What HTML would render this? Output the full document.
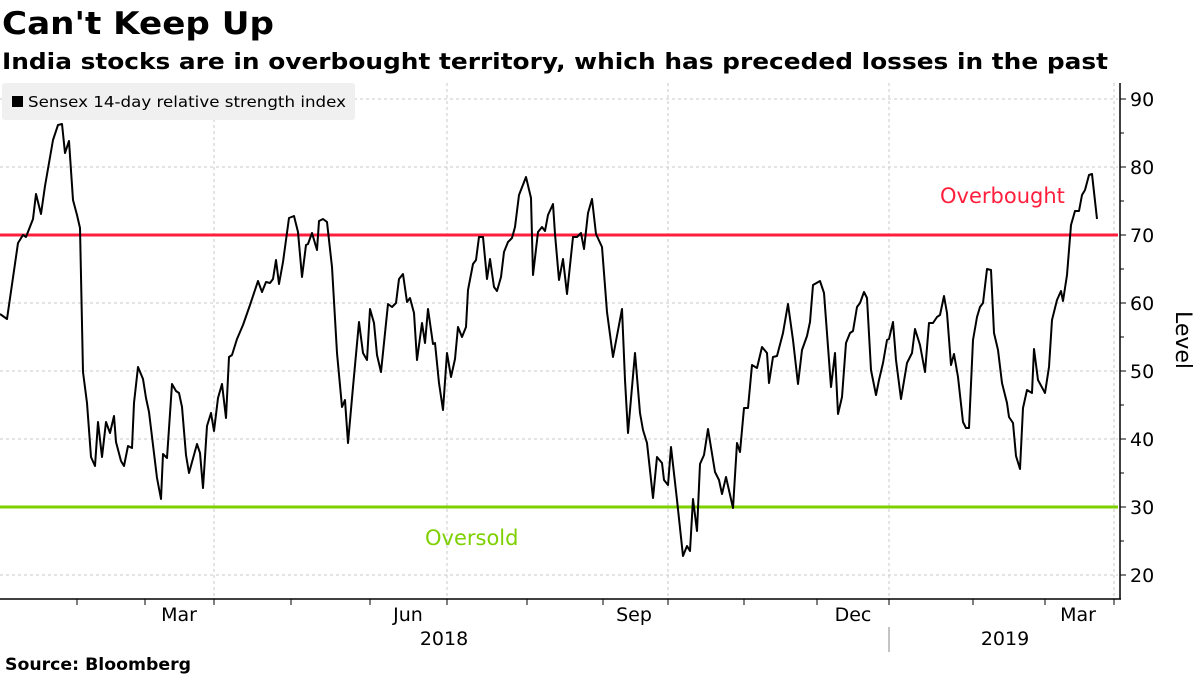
<!DOCTYPE html>
<html><head><meta charset="utf-8"><style>
body{margin:0;background:#fff;}
svg text{font-family:"DejaVu Sans","Liberation Sans",sans-serif;}
</style></head><body>
<svg width="1200" height="675" viewBox="0 0 1200 675" xmlns="http://www.w3.org/2000/svg">
<rect width="1200" height="675" fill="#fff"/>
<text x="2" y="34" font-size="31" font-weight="bold" textLength="272" lengthAdjust="spacingAndGlyphs">Can't Keep Up</text>
<text x="2" y="69" font-size="22" font-weight="bold" textLength="1106" lengthAdjust="spacingAndGlyphs">India stocks are in overbought territory, which has preceded losses in the past</text>
<g stroke="#c8c8c8" stroke-dasharray="3,3" stroke-width="1">
<line x1="0" x2="1118" y1="99" y2="99"/><line x1="0" x2="1118" y1="167" y2="167"/><line x1="0" x2="1118" y1="303" y2="303"/><line x1="0" x2="1118" y1="371" y2="371"/><line x1="0" x2="1118" y1="439" y2="439"/><line x1="0" x2="1118" y1="575" y2="575"/>
<line x1="214" x2="214" y1="83" y2="599"/><line x1="447" x2="447" y1="83" y2="599"/><line x1="668" x2="668" y1="83" y2="599"/><line x1="889" x2="889" y1="83" y2="599"/><line x1="1114" x2="1114" y1="83" y2="599"/>
</g>
<rect x="2" y="83" width="353" height="37" rx="3" fill="#f0f0f0"/>
<rect x="12" y="96" width="11" height="11" fill="#000"/>
<text x="28" y="107" font-size="15" textLength="318" lengthAdjust="spacingAndGlyphs">Sensex 14-day relative strength index</text>
<line x1="0" x2="1118" y1="235" y2="235" stroke="#ff1f3d" stroke-width="3"/>
<line x1="0" x2="1118" y1="507" y2="507" stroke="#7ed000" stroke-width="3"/>
<text x="940" y="203" font-size="21" fill="#ff1f3d">Overbought</text>
<text x="425" y="545" font-size="21" fill="#7ed000">Oversold</text>
<polyline fill="none" stroke="#000" stroke-width="2" stroke-linejoin="round" points="0,314 7,319 18,243 23,235 26,237 33,219 36,194 41,214 45,186 53,140 58,125 62,124 65,153 69,141 73,200 77,215 80,228 83,372 87,403 91,457 95,466 98,422 102,457 106,422 110,433 114,416 116,442 121,461 124,466 128,446 132,448 134,403 138,367 143,379 146,398 149,412 157,478 161,499 163,454 167,458 172,384 176,391 179,393 182,407 186,455 189,473 197,444 200,453 203,488 207,426 211,413 214,431 218,398 222,384 226,418 229,357 232,355 237,339 243,325 250,305 258,281 262,292 266,282 270,283 273,279 276,260 279,284 283,262 289,218 294,216 298,232 302,277 306,245 308,244 312,233 317,250 319,221 323,219 327,222 332,267 337,353 342,407 345,400 348,443 353,387 359,322 363,353 367,360 370,309 374,323 377,355 381,372 388,304 392,307 396,303 399,279 403,274 407,302 410,298 414,313 417,360 422,323 425,343 428,309 433,344 435,343 439,383 443,410 447,353 451,377 455,359 458,327 462,337 466,327 468,290 473,264 476,260 479,237 483,237 487,279 490,259 494,287 497,291 501,277 504,252 508,242 512,238 515,227 519,195 526,177 531,198 533,275 538,232 542,227 545,231 548,215 553,204 555,234 559,280 563,259 567,294 573,237 577,237 581,233 584,249 588,213 592,199 596,234 602,247 607,312 613,357 622,309 625,380 628,433 635,353 640,413 643,430 647,443 653,498 657,457 662,463 664,480 668,485 671,447 677,500 683,556 687,546 690,551 693,499 697,531 700,464 704,455 708,429 715,472 719,480 722,494 726,477 733,508 737,443 740,452 744,408 748,408 752,365 757,368 762,347 767,353 769,383 773,357 777,356 783,333 788,304 793,340 798,384 802,350 807,336 810,322 813,285 820,281 824,293 831,387 835,353 838,414 842,397 846,343 850,333 853,331 857,307 860,303 864,292 867,298 871,370 876,395 879,380 883,363 887,340 889,339 893,322 896,360 901,399 907,363 912,353 915,329 920,345 925,372 929,323 933,323 937,317 940,315 944,296 947,313 951,365 954,354 958,377 963,422 966,428 969,428 973,340 977,317 980,307 983,303 987,269 991,270 994,333 998,350 1002,383 1007,403 1009,417 1013,423 1016,456 1020,469 1023,408 1027,390 1032,393 1034,349 1038,380 1045,393 1049,367 1052,320 1057,300 1061,291 1063,301 1067,275 1071,225 1075,211 1079,211 1082,195 1085,190 1089,175 1092,174 1097,219"/>
<g stroke="#000" stroke-width="1.5">
<line x1="0" x2="1121" y1="599" y2="599"/>
<line x1="1120" x2="1120" y1="83" y2="599"/>
</g>
<g stroke="#000" stroke-width="1">
<line x1="77" x2="77" y1="599" y2="605"/><line x1="145" x2="145" y1="599" y2="605"/><line x1="214" x2="214" y1="599" y2="605"/><line x1="291" x2="291" y1="599" y2="605"/><line x1="370" x2="370" y1="599" y2="605"/><line x1="447" x2="447" y1="599" y2="605"/><line x1="527" x2="527" y1="599" y2="605"/><line x1="603" x2="603" y1="599" y2="605"/><line x1="668" x2="668" y1="599" y2="605"/><line x1="744" x2="744" y1="599" y2="605"/><line x1="817" x2="817" y1="599" y2="605"/><line x1="889" x2="889" y1="599" y2="605"/><line x1="973" x2="973" y1="599" y2="605"/><line x1="1045" x2="1045" y1="599" y2="605"/><line x1="1114" x2="1114" y1="599" y2="605"/>
<line x1="889" x2="889" y1="627" y2="652" stroke="#888"/>
<line x1="1120" x2="1126" y1="99" y2="99"/><line x1="1120" x2="1126" y1="167" y2="167"/><line x1="1120" x2="1126" y1="235" y2="235"/><line x1="1120" x2="1126" y1="303" y2="303"/><line x1="1120" x2="1126" y1="371" y2="371"/><line x1="1120" x2="1126" y1="439" y2="439"/><line x1="1120" x2="1126" y1="507" y2="507"/><line x1="1120" x2="1126" y1="575" y2="575"/>
<line x1="1120" x2="1124" y1="133" y2="133"/><line x1="1120" x2="1124" y1="201" y2="201"/><line x1="1120" x2="1124" y1="269" y2="269"/><line x1="1120" x2="1124" y1="337" y2="337"/><line x1="1120" x2="1124" y1="405" y2="405"/><line x1="1120" x2="1124" y1="473" y2="473"/><line x1="1120" x2="1124" y1="541" y2="541"/>
</g>
<g font-size="19" fill="#000">
<text x="1130" y="106">90</text><text x="1130" y="174">80</text><text x="1130" y="242">70</text><text x="1130" y="310">60</text><text x="1130" y="378">50</text><text x="1130" y="446">40</text><text x="1130" y="514">30</text><text x="1130" y="582">20</text>
</g>
<text transform="translate(1176,340) rotate(90)" font-size="22" text-anchor="middle">Level</text>
<g font-size="19" text-anchor="middle">
<text x="179" y="621">Mar</text><text x="408" y="621">Jun</text><text x="634" y="621">Sep</text><text x="853" y="621">Dec</text><text x="1078" y="621">Mar</text>
<text x="444" y="645">2018</text><text x="1005" y="645">2019</text>
</g>
<text x="5" y="670" font-size="17" font-weight="bold" textLength="186" lengthAdjust="spacingAndGlyphs">Source: Bloomberg</text>
</svg>
</body></html>
